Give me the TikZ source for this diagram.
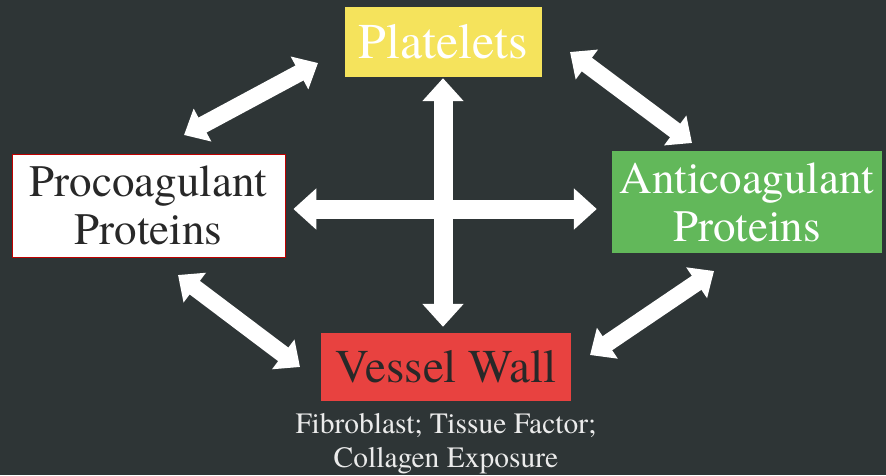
\documentclass[tikz,border=0pt]{standalone}
\usepackage{fontspec}
\setmainfont{TeX Gyre Termes}
\usetikzlibrary{arrows.meta,positioning}
\definecolor{bgslate}{RGB}{46,53,54}
\definecolor{plyellow}{RGB}{245,227,92}
\definecolor{acgreen}{RGB}{98,184,90}
\definecolor{vwred}{RGB}{232,66,64}
\definecolor{darktext}{RGB}{40,40,40}
\begin{document}
\begin{tikzpicture}[x=1pt,y=-1pt,
		box/.style={rectangle,inner sep=0pt,align=center},
		dbl/.style={white,line width=19pt,
			{Triangle[width=40pt,length=23pt]}-{Triangle[width=40pt,length=23pt]}},
		diagdbl/.style={white,line width=17pt,
			{Triangle[width=36pt,length=21pt]}-{Triangle[width=36pt,length=21pt]}}]
		
		\fill[bgslate] (0,0) rectangle (886,475);
		
		\node[box,fill=plyellow,minimum width=197pt,minimum height=70pt,text=white,
			font=\fontsize{50}{50}\selectfont] (pl) at (443.5,42) {Platelets};
		\node[box,fill=white,draw=red!75!black,line width=0.8pt,minimum width=273pt,minimum height=103pt,
			text=darktext,font=\fontsize{45}{48}\selectfont] (pro) at (148.5,205.5) {Procoagulant\\Proteins};
		\node[box,fill=acgreen,minimum width=270pt,minimum height=102pt,text=white,
			font=\fontsize{45}{48}\selectfont] (anti) at (747,202) {Anticoagulant\\Proteins};
		\node[box,fill=vwred,minimum width=250pt,minimum height=68pt,text=darktext,
			font=\fontsize{47}{47}\selectfont] (vw) at (446,367) {Vessel Wall};
		\node[box,below=12pt of vw,text=black!8,font=\fontsize{29.5}{34}\selectfont] (vwsub)
			{Fibroblast; Tissue Factor;\\Collagen Exposure};
		
		\coordinate (mid) at (443,209);
		\coordinate (ula) at (184,135);
		\coordinate (ulb) at (318,63);
		\coordinate (ura) at (570,52);
		\coordinate (urb) at (692,143);
		\coordinate (lla) at (178,275);
		\coordinate (llb) at (300,367);
		\coordinate (lra) at (590,355);
		\coordinate (lrb) at (714,271);
		
		\draw[dbl,shorten <=1pt,shorten >=6pt] (pl.south -| mid) to (vw.north -| mid);
		\draw[dbl,shorten <=8pt,shorten >=15pt] (pro.east |- mid) to (anti.west |- mid);
		\draw[diagdbl] (ula) to (ulb);
		\draw[diagdbl] (ura) to (urb);
		\draw[diagdbl] (lla) to (llb);
		\draw[diagdbl] (lra) to (lrb);
		
	\end{tikzpicture}
\end{document}
